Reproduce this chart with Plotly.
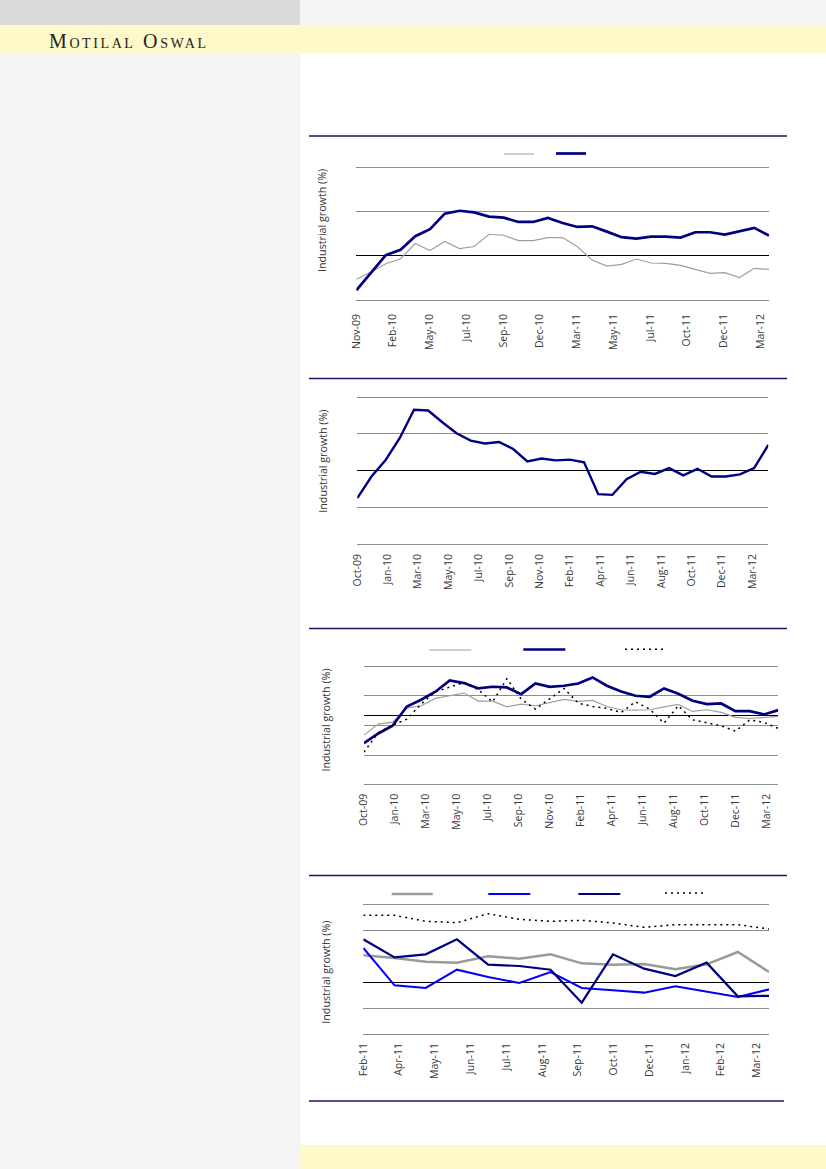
import numpy as np
import pandas as pd
import plotly.graph_objects as go

W, H = 826, 1169

def mlist(start, end):
    return [d.strftime('%b-%y') for d in pd.date_range(start, end, freq='MS')]

# ---------------- data ----------------
# Chart 1 (Nov-09 .. Mar-12)
c1_months = mlist('2009-11-01', '2012-03-01')
c1_gray = [-2.66, -1.84, -0.90, -0.34, 1.39, 0.60, 1.61, 0.82, 1.05, 2.43, 2.32, 1.72, 1.72,
           2.06, 2.06, 1.01, -0.49, -1.16, -0.97, -0.37, -0.82, -0.86, -1.09, -1.54, -1.98,
           -1.91, -2.47, -1.42, -1.54]
c1_navy = [-3.90, -1.91, 0.07, 0.67, 2.21, 3.00, 4.76, 5.09, 4.91, 4.42, 4.31, 3.82, 3.82,
           4.27, 3.71, 3.26, 3.33, 2.73, 2.10, 1.95, 2.17, 2.17, 2.06, 2.66, 2.66, 2.40,
           2.77, 3.15, 2.28]
c1_ticks = ['Nov-09', 'Feb-10', 'May-10', 'Jul-10', 'Sep-10', 'Dec-10', 'Mar-11', 'May-11',
            'Jul-11', 'Oct-11', 'Dec-11', 'Mar-12']

# Chart 2 (Oct-09 .. Mar-12)
c2_months = mlist('2009-10-01', '2012-03-01')
c2_navy = [-7.5, -1.6, 2.9, 8.9, 16.6, 16.4, 13.2, 10.2, 8.2, 7.4, 7.8, 5.9, 2.5, 3.3, 2.8,
           3.0, 2.3, -6.4, -6.6, -2.3, -0.3, -0.9, 0.7, -1.3, 0.5, -1.6, -1.6, -1.0, 0.7, 7.0]
c2_ticks = ['Oct-09', 'Jan-10', 'Mar-10', 'May-10', 'Jul-10', 'Sep-10', 'Nov-10', 'Feb-11',
            'Apr-11', 'Jun-11', 'Aug-11', 'Oct-11', 'Dec-11', 'Mar-12']

# Chart 3 (Oct-09 .. Mar-12)
c3_months = mlist('2009-10-01', '2012-03-01')
c3_gray = [-3.98, -1.75, -1.35, 1.48, 1.96, 3.44, 3.98, 4.52, 2.90, 2.90, 1.75, 2.29, 1.96,
           2.63, 3.24, 2.83, 3.03, 1.82, 1.15, 1.08, 1.15, 1.75, 2.22, 0.81, 1.15, 0.61,
           -0.40, -0.61, -0.47, -0.20]
c3_navy = [-5.60, -3.64, -2.09, 1.82, 3.17, 4.80, 7.08, 6.54, 5.46, 5.80, 5.66, 4.31, 6.47,
           5.80, 6.00, 6.47, 7.69, 6.00, 4.85, 3.98, 3.78, 5.46, 4.38, 2.97, 2.29, 2.43,
           0.88, 0.88, 0.20, 1.08]
c3_dot = [-7.42, -3.44, -1.96, -0.74, 2.29, 4.79, 5.73, 6.67, 5.19, 2.76, 7.42, 3.30, 1.28,
          3.30, 5.46, 2.49, 1.82, 1.42, 0.61, 2.76, 1.28, -1.55, 1.96, -0.88, -1.55, -2.09,
          -3.17, -0.88, -1.42, -2.63]
c3_ticks = c2_ticks

# Chart 4 (Feb-11 .. Mar-12)
c4_months = mlist('2011-02-01', '2012-03-01')
c4_gray = [5.13, 4.62, 3.91, 3.72, 4.94, 4.49, 5.32, 3.59, 3.33, 3.46, 2.44, 3.40, 5.77, 1.92]
c4_blue = [6.54, -0.64, -1.15, 2.37, 0.96, -0.19, 1.92, -1.15, -1.60, -2.05, -0.83, -1.92,
           -2.88, -1.41]
c4_navy = [8.21, 4.74, 5.32, 8.21, 3.33, 3.08, 2.37, -3.97, 5.32, 2.56, 1.15, 3.72, -2.75,
           -2.65]
c4_dot = [12.82, 12.82, 11.67, 11.41, 13.14, 12.05, 11.67, 11.86, 11.35, 10.51, 11.03, 11.03,
          11.03, 10.19]
c4_ticks = ['Feb-11', 'Apr-11', 'May-11', 'Jun-11', 'Jul-11', 'Aug-11', 'Sep-11', 'Oct-11',
            'Dec-11', 'Jan-12', 'Feb-12', 'Mar-12']

y_title = 'Industrial growth (%)'
brand = 'Motilal Oswal'

# ---------------- styles ----------------
NAVY = '#000080'
BLUE = '#0000ff'
GRAY_THIN = '#9f9f9f'
GRAY_THICK = '#9a9a9a'
GRID = '#8c8c8c'
RULE = '#1a1464'
YELLOW = '#fff8c8'
LIGHT = '#f4f4f4'
DARKBAR = '#dadada'
TICKFONT = dict(family='Open Sans', size=10.5, color='#383838')
DOTDASH = '2px,4px'
EDGE = 2.0  # px of breathing room so the edge gridlines are kept


def fx(p):
    return p / W


def fy(p):
    return 1 - p / H


fig = go.Figure()

# chart geometry (pixels): x0, x1, y0(top), y1(bottom), label step, standoff
geo = {
    1: dict(x0=356.3, x1=769.0, y0=167.3, y1=300.0, step=2.4935, standoff=9),
    2: dict(x0=357.3, x1=768.3, y0=397.3, y1=544.0, step=2.144, standoff=5),
    3: dict(x0=364.0, x1=778.3, y0=666.0, y1=784.7, step=2.168, standoff=4),
    4: dict(x0=363.3, x1=769.0, y0=904.0, y1=1034.0, step=1.146, standoff=4),
}
series = {
    1: dict(months=c1_months, ticks=c1_ticks, yr=[-5, 10], tv=[-5, 0, 5, 10],
            lines=[(c1_gray, GRAY_THIN, 1.2, 'solid', 30, 504, 154),
                   (c1_navy, NAVY, 2.7, 'solid', 30, 556, 153.5)]),
    2: dict(months=c2_months, ticks=c2_ticks, yr=[-20, 20], tv=[-20, -10, 0, 10, 20],
            lines=[(c2_navy, NAVY, 2.4, 'solid', None, None, None)]),
    3: dict(months=c3_months, ticks=c3_ticks, yr=[-14, 10], tv=[-14, -8, -2, 0, 4, 10],
            lines=[(c3_gray, GRAY_THIN, 1.2, 'solid', 42, 429.3, 650),
                   (c3_navy, NAVY, 2.7, 'solid', 42, 523.3, 649.5),
                   (c3_dot, '#000000', 1.5, DOTDASH, 40, 625, 649.3)]),
    4: dict(months=c4_months, ticks=c4_ticks, yr=[-10, 15], tv=[-10, -5, 0, 10, 15],
            lines=[(c4_gray, GRAY_THICK, 2.5, 'solid', 41, 391.7, 894),
                   (c4_blue, BLUE, 2.1, 'solid', 42, 488.3, 894),
                   (c4_navy, NAVY, 2.2, 'solid', 42, 578.3, 894),
                   (c4_dot, '#000000', 1.5, DOTDASH, 40, 665, 893)]),
}
ytitle_pos = {1: (322, 221), 2: (322.7, 461), 3: (326, 720.6), 4: (326, 972.7)}

layout = dict(width=W, height=H, margin=dict(l=0, r=0, t=0, b=0, pad=0, autoexpand=False),
              paper_bgcolor='#ffffff', plot_bgcolor='rgba(0,0,0,0)', showlegend=True)

leg_n = 0
annotations = []
for k in (1, 2, 3, 4):
    g = geo[k]
    s = series[k]
    xs = np.arange(len(s['months']))
    sfx = '' if k == 1 else str(k)
    n_ticks = len(s['ticks'])
    layout['xaxis' + sfx] = dict(
        domain=[fx(g['x0']), fx(g['x1'])], anchor='y' + sfx,
        range=[0, len(xs) - 1], showgrid=False, zeroline=False, showline=False,
        ticks='', tickangle=-90, tickfont=TICKFONT, tickmode='array',
        tickvals=list(np.arange(n_ticks) * g['step']), ticktext=s['ticks'],
        ticklabelstandoff=g['standoff'], fixedrange=True, automargin=False)
    hpx = g['y1'] - g['y0']
    span = s['yr'][1] - s['yr'][0]
    pad = span * EDGE / hpx
    layout['yaxis' + sfx] = dict(
        domain=[fy(g['y1'] + EDGE), fy(g['y0'] - EDGE)], anchor='x' + sfx,
        range=[s['yr'][0] - pad, s['yr'][1] + pad], showgrid=True, gridcolor=GRID,
        gridwidth=1, zeroline=True, zerolinecolor='#000000', zerolinewidth=1.3,
        showticklabels=False, ticks='', tickmode='array', tickvals=s['tv'],
        showline=False, fixedrange=True, automargin=False)
    for (vals, col, lw, dash, iw, lx, ly) in s['lines']:
        tr = dict(x=xs, y=vals, mode='lines', name='', text=s['months'],
                  hovertemplate='%{text}: %{y}<extra></extra>',
                  line=dict(color=col, width=lw, dash=dash),
                  xaxis='x' + sfx, yaxis='y' + sfx)
        if iw is None:
            tr['showlegend'] = False
        else:
            leg_n += 1
            lname = 'legend' if leg_n == 1 else 'legend%d' % leg_n
            tr['legend'] = lname
            layout[lname] = dict(x=fx(lx - 5), y=fy(ly), xanchor='left', yanchor='middle',
                                 orientation='h', bgcolor='rgba(0,0,0,0)', borderwidth=0,
                                 itemwidth=iw, font=dict(size=10, color='#404040'),
                                 itemclick=False, itemdoubleclick=False)
        fig.add_trace(go.Scatter(**tr))
    tx, ty = ytitle_pos[k]
    annotations.append(dict(text=y_title, x=fx(tx), y=fy(ty), xref='paper', yref='paper',
                            xanchor='center', yanchor='middle', textangle=-90,
                            showarrow=False,
                            font=dict(family='Open Sans', size=10.7, color='#333333')))

annotations.append(dict(text='<span style="letter-spacing:2.6px">%s</span>' % brand,
                        x=fx(47), y=fy(40.5), xref='paper', yref='paper',
                        xanchor='left', yanchor='middle', showarrow=False,
                        font=dict(family='Liberation Serif', size=20, color='#222222',
                                  variant='small-caps')))


def rect(x0, y0, x1, y1, color):
    return dict(type='rect', xref='paper', yref='paper', x0=fx(x0), x1=fx(x1),
                y0=fy(y1), y1=fy(y0), fillcolor=color, line=dict(width=0), layer='below')


def rule(y, x0=309, x1=787):
    return dict(type='line', xref='paper', yref='paper', x0=fx(x0), x1=fx(x1),
                y0=fy(y), y1=fy(y), line=dict(color=RULE, width=1.6), layer='above')


shapes = [
    rect(0, 0, 300, 25, DARKBAR),
    rect(300, 0, W, 25, LIGHT),
    rect(0, 25, W, 53.3, YELLOW),
    rect(0, 53.3, 300.5, H, LIGHT),
    rect(300.5, 1145, W, H, YELLOW),
    rule(136), rule(378.5), rule(628.5), rule(875.5), rule(1101, 309, 784),
]

layout['annotations'] = annotations
layout['shapes'] = shapes
fig.update_layout(**layout)

page_js = ("document.documentElement.style.margin='0';"
           "document.documentElement.style.overflow='hidden';"
           "document.body.style.margin='0';document.body.style.padding='0';"
           "document.body.style.overflow='hidden';")
fig.write_html('out.html', post_script=page_js, config={'displayModeBar': False})
